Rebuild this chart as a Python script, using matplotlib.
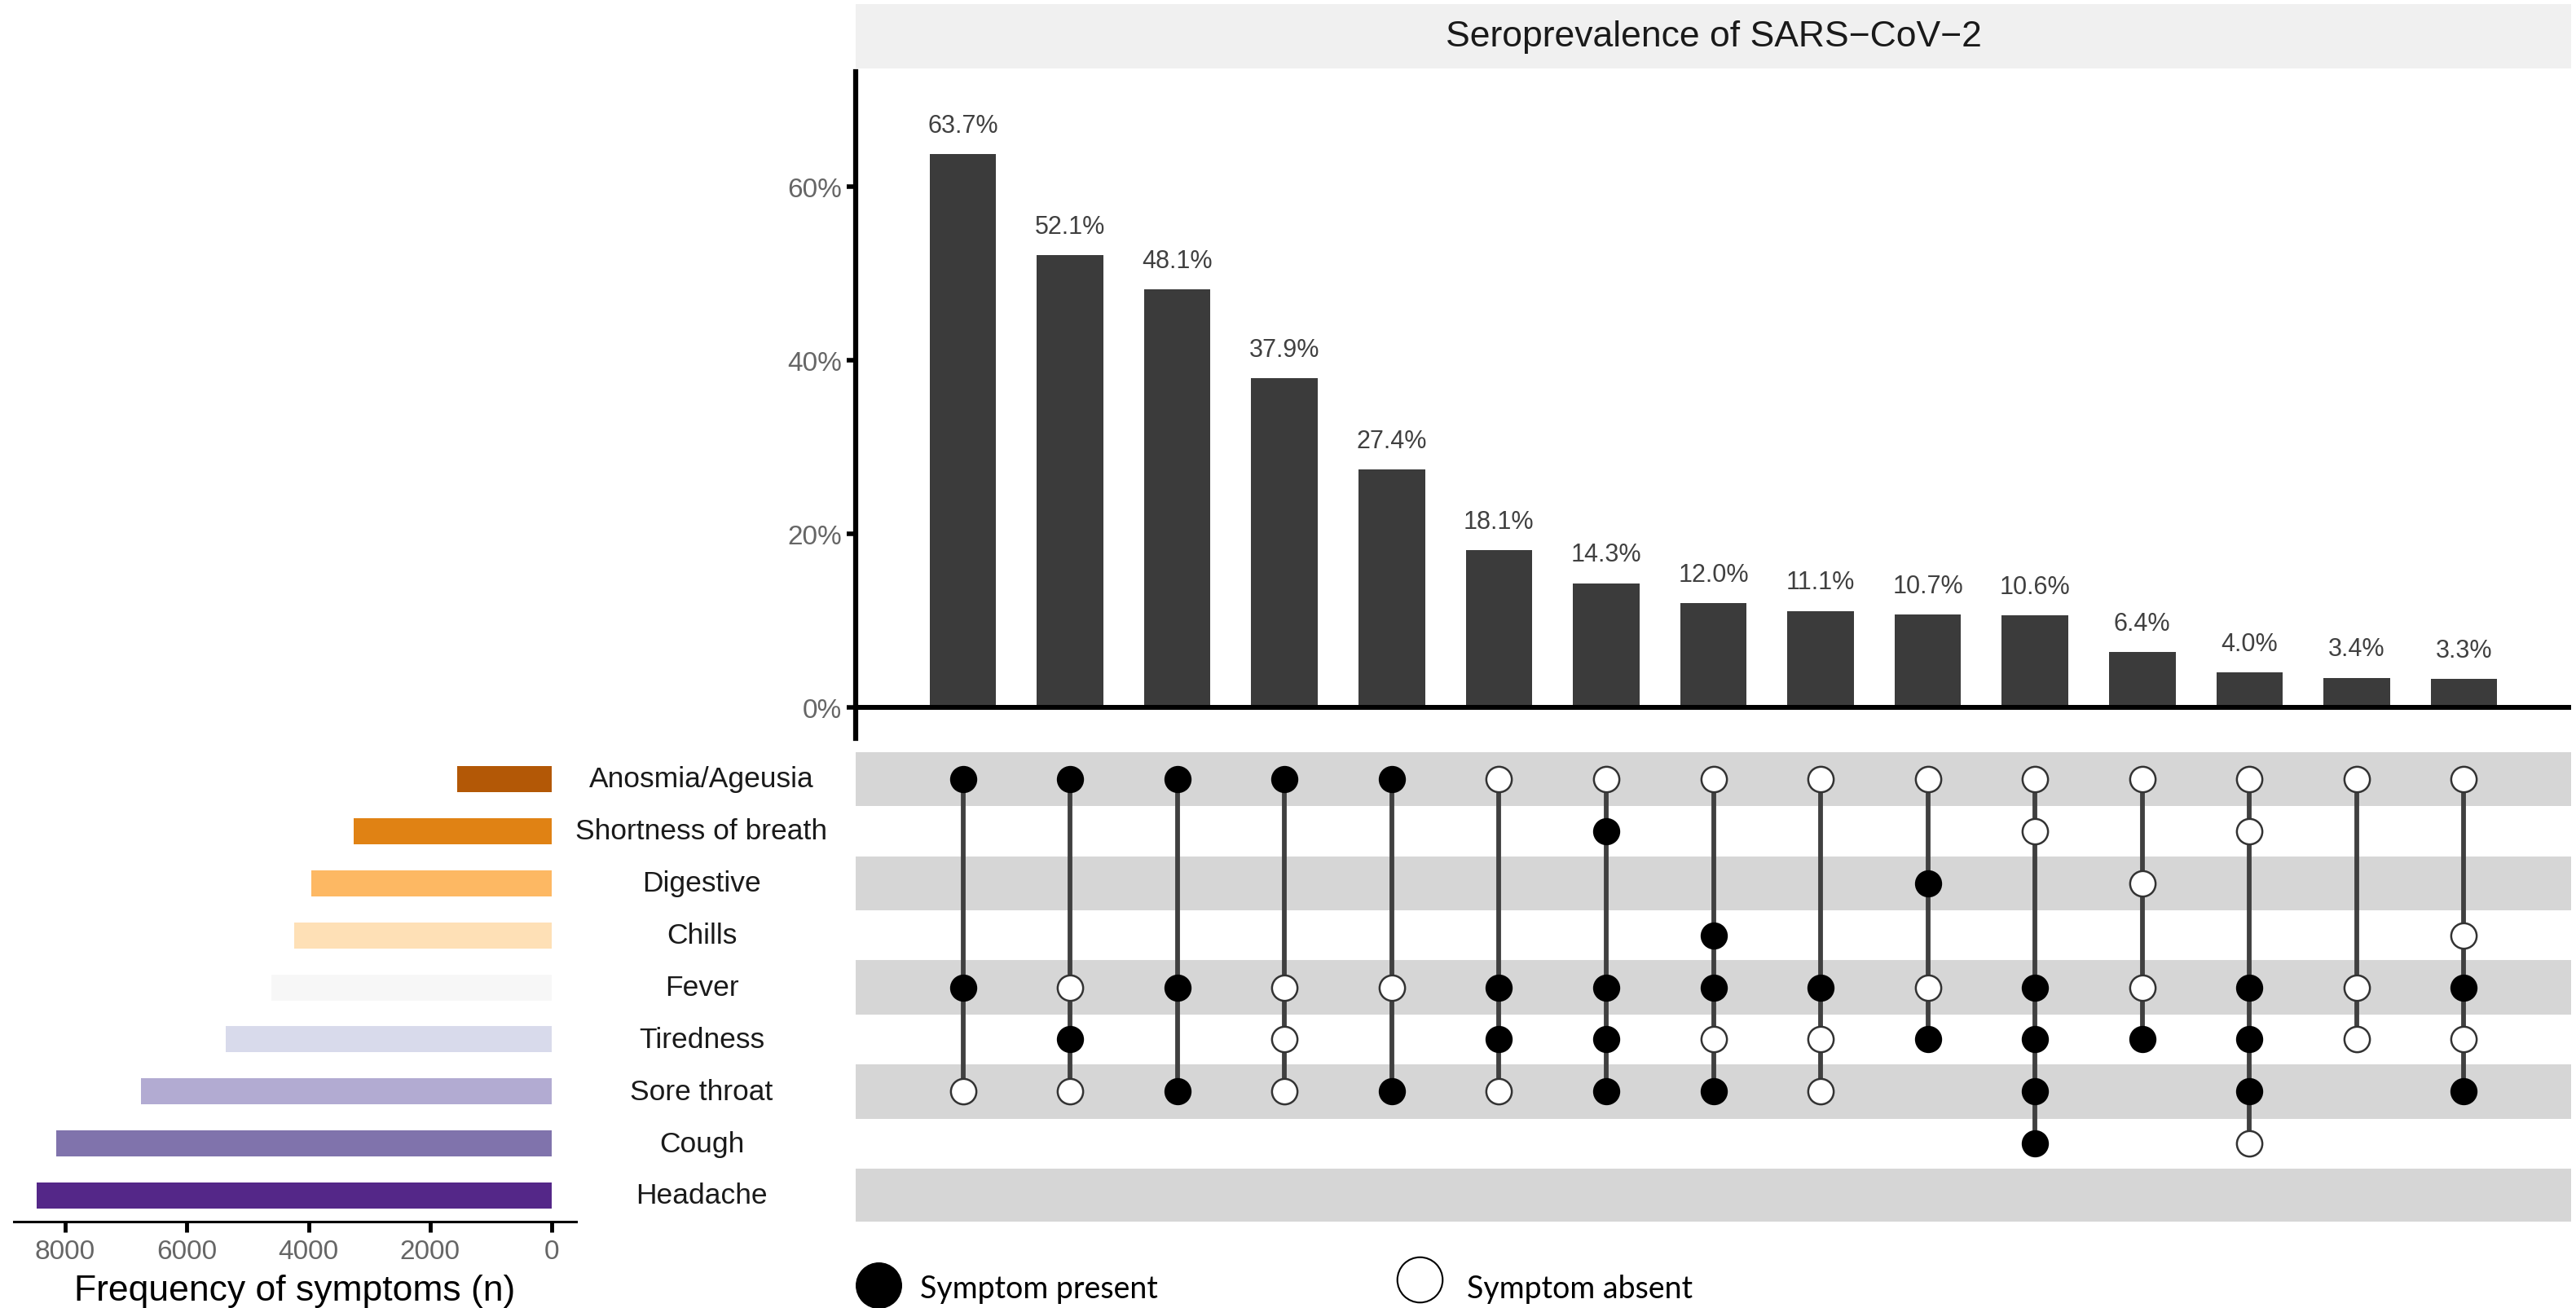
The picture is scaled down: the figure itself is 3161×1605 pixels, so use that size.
import numpy as np
import matplotlib.pyplot as plt
from matplotlib.lines import Line2D
from matplotlib.ticker import FuncFormatter

plt.rcParams['font.family'] = ['Liberation Sans', 'DejaVu Sans']

# symptoms, bottom row first
symptoms = ['Headache', 'Cough', 'Sore throat', 'Tiredness', 'Fever',
            'Chills', 'Digestive', 'Shortness of breath', 'Anosmia/Ageusia']
symptom_counts = [8470, 8150, 6750, 5360, 4610, 4230, 3960, 3250, 1550]
symptom_colors = ['#542788', '#8073ac', '#b2abd2', '#d8daeb', '#f7f7f7',
                  '#fee0b6', '#fdb863', '#e08214', '#b35806']

# seroprevalence per symptom combination
seroprevalence = [63.7, 52.1, 48.1, 37.9, 27.4, 18.1, 14.3, 12.0,
                  11.1, 10.7, 10.6, 6.4, 4.0, 3.4, 3.3]

present = [
    ['Anosmia/Ageusia', 'Fever'],
    ['Anosmia/Ageusia', 'Tiredness'],
    ['Anosmia/Ageusia', 'Fever', 'Sore throat'],
    ['Anosmia/Ageusia'],
    ['Anosmia/Ageusia', 'Sore throat'],
    ['Fever', 'Tiredness'],
    ['Shortness of breath', 'Fever', 'Tiredness', 'Sore throat'],
    ['Chills', 'Fever', 'Sore throat'],
    ['Fever'],
    ['Digestive', 'Tiredness'],
    ['Fever', 'Tiredness', 'Sore throat', 'Cough'],
    ['Tiredness'],
    ['Fever', 'Tiredness', 'Sore throat'],
    [],
    ['Fever', 'Sore throat'],
]
absent = [
    ['Sore throat'],
    ['Fever', 'Sore throat'],
    [],
    ['Fever', 'Tiredness', 'Sore throat'],
    ['Fever'],
    ['Anosmia/Ageusia', 'Sore throat'],
    ['Anosmia/Ageusia'],
    ['Anosmia/Ageusia', 'Tiredness'],
    ['Anosmia/Ageusia', 'Tiredness', 'Sore throat'],
    ['Anosmia/Ageusia', 'Fever'],
    ['Anosmia/Ageusia', 'Shortness of breath'],
    ['Anosmia/Ageusia', 'Digestive', 'Fever'],
    ['Anosmia/Ageusia', 'Shortness of breath', 'Cough'],
    ['Anosmia/Ageusia', 'Fever', 'Tiredness'],
    ['Anosmia/Ageusia', 'Chills', 'Tiredness'],
]

W, H = 3161, 1606
fig = plt.figure(figsize=(W / 100, H / 100), dpi=100)

def box(x0, y0, x1, y1):
    # pixel box -> figure fraction
    return [x0 / W, 1 - y1 / H, (x1 - x0) / W, (y1 - y0) / H]

n = len(seroprevalence)
xs = np.arange(1, n + 1)
row = {s: i for i, s in enumerate(symptoms)}

## top: bars
ax_top = fig.add_axes(box(1050, 89, 3155, 907))
ax_top.bar(xs, seroprevalence, width=0.62, color='#3b3b3b')
for x, v in zip(xs, seroprevalence):
    ax_top.text(x, v + 1.9, f'{v:.1f}%', ha='center', va='bottom',
                fontsize=22, color='#404040')
ax_top.axhline(0, color='black', lw=4.3)
ax_top.set_xlim(0, 16)
ax_top.set_ylim(-3.57, 73.2)
ax_top.set_yticks([0, 20, 40, 60])
ax_top.yaxis.set_major_formatter(FuncFormatter(lambda v, p: f'{v:.0f}%'))
ax_top.set_xticks([])
for s in ['top', 'right', 'bottom']:
    ax_top.spines[s].set_visible(False)
ax_top.spines['left'].set_linewidth(4.5)
ax_top.tick_params(axis='y', length=8, width=4, labelsize=24,
                   labelcolor='#666666', pad=4)

# strip title
ax_strip = fig.add_axes(box(1050, 6, 3155, 85))
ax_strip.set_facecolor('#f0f0f0')
ax_strip.set_xticks([])
ax_strip.set_yticks([])
for s in ax_strip.spines.values():
    s.set_visible(False)
ax_strip.text(0.5, 0.5, 'Seroprevalence of SARS\u2212CoV\u22122', ha='center',
              va='center', fontsize=32, color='#1a1a1a',
              transform=ax_strip.transAxes)

## matrix of dots
ax_mat = fig.add_axes(box(1050, 922, 3155, 1500))
for i in range(len(symptoms)):
    if i % 2 == 0:
        ax_mat.axhspan(i - 0.52, i + 0.52, color='#d6d6d6', lw=0)
for x, pres, absn in zip(xs, present, absent):
    ys_p = [row[s] for s in pres]
    ys_a = [row[s] for s in absn]
    ys = ys_p + ys_a
    ax_mat.plot([x, x], [min(ys), max(ys)], color='#404040', lw=4.2,
                solid_capstyle='butt', zorder=2)
    ax_mat.plot([x] * len(ys_p), ys_p, 'o', ms=22.5, mfc='black', mec='black',
                mew=1.5, zorder=3)
    ax_mat.plot([x] * len(ys_a), ys_a, 'o', ms=22.5, mfc='white', mec='#333333',
                mew=1.8, zorder=3)
ax_mat.set_xlim(0, 16)
ax_mat.set_ylim(-0.5, 8.55)
ax_mat.axis('off')

## left: symptom frequency
ax_left = fig.add_axes(box(17, 922, 707, 1500))
ax_left.barh(range(len(symptoms)), symptom_counts, height=0.5,
             color=symptom_colors)
ax_left.set_xlim(8845, -402)
ax_left.set_ylim(-0.5, 8.55)
ax_left.set_yticks([])
ax_left.set_xticks([0, 2000, 4000, 6000, 8000])
for s in ['top', 'right', 'left']:
    ax_left.spines[s].set_visible(False)
ax_left.spines['bottom'].set_linewidth(2.2)
ax_left.tick_params(axis='x', length=9, width=3.5, labelsize=24,
                    labelcolor='#666666', pad=6)
ax_left.set_xlabel('Frequency of symptoms (n)', fontsize=32, color='black',
                   labelpad=9)

# symptom names between the two panels
for s, i in row.items():
    y_px = 1468 - i * 63.9
    fig.text(861 / W, 1 - y_px / H, s, ha='center', va='center',
             fontsize=25.5, color='#1a1a1a')

## legend
leg_font = ['Lato', 'DejaVu Sans']
fig.add_artist(Line2D([1078 / W], [1 - 1578 / H], marker='o', ms=40,
                      mfc='black', mec='black', transform=fig.transFigure))
fig.text(1129 / W, 1 - 1582 / H, 'Symptom present', ha='left', va='center',
         fontsize=27, family=leg_font, color='black')
fig.add_artist(Line2D([1742 / W], [1 - 1571 / H], marker='o', ms=40,
                      mfc='white', mec='black', mew=1.5,
                      transform=fig.transFigure))
fig.text(1800 / W, 1 - 1582 / H, 'Symptom absent', ha='left', va='center',
         fontsize=27, family=leg_font, color='black')

fig.savefig('out.png', dpi=100)
